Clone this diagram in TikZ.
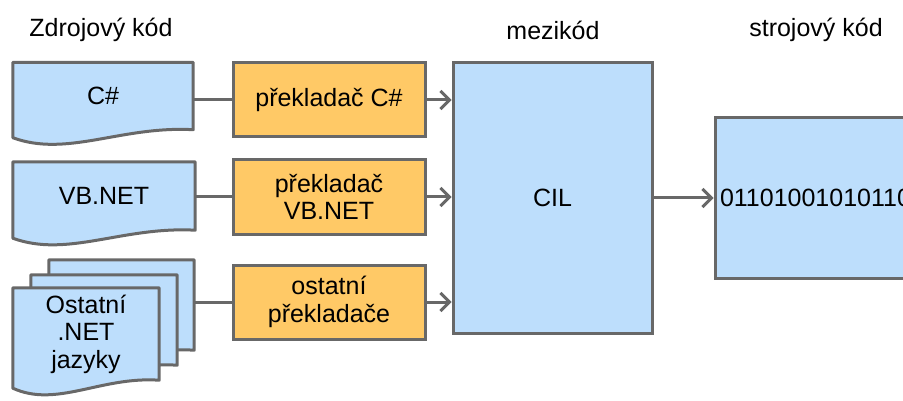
\documentclass[tikz,border=0pt]{standalone}
\usepackage{fontspec}
\setmainfont{Liberation Sans}
\usepackage{tikz}
\usetikzlibrary{positioning,calc,backgrounds}
\usetikzlibrary{arrows.meta}

\definecolor{docblue}{RGB}{189,222,252}
\definecolor{comporange}{RGB}{255,201,102}
\definecolor{edgegray}{RGB}{104,104,104}

\tikzset{
  txt/.style={font=\fontsize{25}{27.5}\selectfont},
  docnode/.style={txt, inner sep=0pt, align=center},
  docline/.style={draw=edgegray, line width=3pt, fill=docblue, line join=round},
  compbox/.style={txt, draw=edgegray, line width=3pt, fill=comporange,
    minimum width=192pt, minimum height=74pt, align=center, inner sep=0pt},
  codebox/.style={txt, draw=edgegray, line width=3pt, fill=docblue, inner sep=0pt},
  conn/.style={draw=edgegray, line width=3pt},
  arr/.style={conn, -{Straight Barb[length=9pt,width=18pt]}},
}

% document outline round a node, wavy bottom
\newcommand{\docoutline}[1]{%
  \begin{scope}[on background layer]
    \path[docline] let \p1=(#1.north west), \p2=(#1.south east), \n1={\x2-\x1} in
      (\p1) -- (\x2,\y1) -- (\p2)
      .. controls (\x2-0.4*\n1,\y2+4pt) and (\x1+0.3*\n1,\y2-28pt) .. (\x1,\y2-8pt) -- cycle;
  \end{scope}}

\begin{document}
\begin{tikzpicture}[x=1pt,y=-1pt]
    \useasboundingbox (0,0) rectangle (903,401);
    \clip (0,0) rectangle (903,401);

    %headers
    \node[txt] (hsrc) at (101,30) {Zdrojový kód};
    \node[txt] (hmid) at (553,30) {mezikód};
    \node[txt] (hmc) at (816,30) {strojový kód};

    %source files
    \node[docnode, minimum width=180pt, minimum height=67pt] (cs) at (103,96) {C\#};
    \node[docnode, minimum width=182pt, minimum height=68pt] (vb) at (104,196) {VB.NET};
    \node[docnode, minimum width=145pt, minimum height=90pt] (back) at (121.5,305) {};
    \node[docnode, minimum width=146pt, minimum height=90pt] (mid) at ([shift={(-17.5,15)}]back) {};
    \node[docnode, minimum width=146pt, minimum height=92pt] (others) at ([shift={(-18,14)}]mid) {Ostatní\\.NET\\jazyky};
    \docoutline{cs}
    \docoutline{vb}
    \docoutline{back}
    \docoutline{mid}
    \docoutline{others}

    %compilers
    \node[compbox] (c1) at (329,100) {překladač C\#};
    \node[compbox, below=20pt of c1] (c2) {překladač\\VB.NET};
    \node[compbox, below=28pt of c2] (c3) {ostatní\\překladače};

    %code
    \node[codebox, minimum width=199pt, minimum height=270pt] (cil) at (552.5,198) {CIL};
    \node[codebox, minimum height=160pt, text width=250pt, inner xsep=5pt, align=left,
          right=60pt of cil] (mc) {01101001010110};

    %Lines
    \draw[conn] (cs.east |- c1) -- (c1);
    \draw[conn] (vb.east |- c2) -- (c2);
    \draw[conn] (back.east |- c3) -- (c3);
    \draw[arr] (c1.east) -- (c1.east -| cil.west);
    \draw[arr] (c2.east) -- (c2.east -| cil.west);
    \draw[arr] (c3.east) -- (c3.east -| cil.west);
    \draw[arr] (cil) -- (mc);
\end{tikzpicture}
\end{document}
